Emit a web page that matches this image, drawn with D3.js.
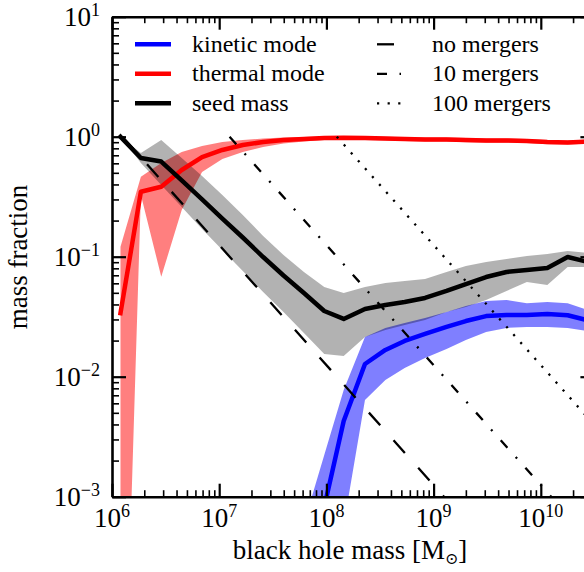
<!DOCTYPE html>
<html>
<head>
<meta charset="utf-8">
<script src="https://cdn.jsdelivr.net/npm/d3@7"></script>
<style>
  body { margin: 0; background: #fff; }
  svg { display: block; }
  svg text { font-family: "Liberation Serif", "DejaVu Serif", serif; }
</style>
</head>
<body>
<svg id="chart" width="584" height="572"></svg>
<script>
// black hole mass bins [Msun]
const mass = [1.20e6, 1.86e6, 2.88e6, 4.47e6, 6.92e6, 1.07e7, 1.66e7, 2.57e7, 3.98e7, 6.17e7,
  9.55e7, 1.45e8, 2.29e8, 3.55e8, 5.37e8, 8.32e8, 1.32e9, 2.00e9, 3.09e9, 4.79e9,
  7.41e9, 1.15e10, 1.78e10, 2.75e10];

// seed mass fraction (median + range)
const seed = [1.0, 0.665, 0.621, 0.432, 0.300, 0.208, 0.1445, 0.0994, 0.0697, 0.0498,
  0.0353, 0.0303, 0.0367, 0.0396, 0.0419, 0.0453, 0.0518, 0.0592, 0.0677, 0.0746,
  0.0775, 0.0805, 0.0994, 0.0903];
const seedHigh = [1.0, 0.731, 0.939, 0.665, 0.471, 0.327, 0.2226, 0.149, 0.1033, 0.0746,
  0.0559, 0.0498, 0.0559, 0.0604, 0.0627, 0.0652, 0.0746, 0.0836, 0.0903, 0.0957,
  0.1014, 0.1053, 0.1115, 0.1074];
const seedLow = [1.0, 0.604, 0.396, 0.2597, 0.170, 0.1137, 0.076, 0.0508, 0.0346, 0.0231,
  0.01545, 0.01488, 0.0214, 0.0245, 0.027, 0.0297, 0.0346, 0.0381, 0.0436, 0.0518,
  0.0615, 0.0581, 0.082, 0.082];

// thermal mode fraction
const thermal = [0.0338, 0.348, 0.383, 0.528, 0.677, 0.775, 0.853, 0.903, 0.939, 0.957,
  0.975, 0.981, 0.975, 0.966, 0.957, 0.948, 0.948, 0.939, 0.93, 0.93,
  0.921, 0.903, 0.895, 0.912];
const thermalHigh = [0.121, 0.464, 0.604, 0.746, 0.837, 0.903, 0.939, 0.966, 0.985, 0.994,
  1.004, 1.013, 1.01, 1.0, 0.99, 0.985, 0.985, 0.975, 0.965, 0.965,
  0.955, 0.94, 0.93, 0.945];
const thermalLow = [1e-6, 0.327, 0.068, 0.245, 0.508, 0.652, 0.746, 0.82, 0.878, 0.912,
  0.939, 0.948, 0.94, 0.93, 0.92, 0.91, 0.91, 0.9, 0.89, 0.89,
  0.885, 0.865, 0.86, 0.875];

// kinetic mode fraction (only above ~6e7 Msun)
const kineticMass = [6.17e7, 9.55e7, 1.45e8, 2.29e8, 3.55e8, 5.37e8, 8.32e8, 1.32e9, 2.00e9,
  3.09e9, 4.79e9, 7.41e9, 1.15e10, 1.78e10, 2.75e10];
const kinetic = [6e-5, 8.2e-4, 0.00428, 0.01276, 0.0167, 0.01984, 0.0227, 0.026, 0.0291,
  0.032, 0.0327, 0.0327, 0.0333, 0.0325, 0.0295];
const kineticHigh = [6.0e-4, 0.00223, 0.00776, 0.0214, 0.0255, 0.028, 0.0308, 0.0346, 0.0388,
  0.0427, 0.0436, 0.041, 0.042, 0.041, 0.036];
const kineticLow = [1e-6, 1e-5, 5.8e-4, 0.0064, 0.0094, 0.0118, 0.01432, 0.017, 0.0202,
  0.0236, 0.0255, 0.026, 0.026, 0.0255, 0.024];

// reference lines: seed grown by N mergers only
const mergerLabels = ['no mergers', '10 mergers', '100 mergers'];
const mergerMass = [[1.25e6, 1.25e9], [1.25e7, 1.25e10], [1.25e8, 1.25e11]];
const mergerFrac = [1, 1e-3];
const mergerDash = ['17,20', '10,12.5,2,12.5', '2.2,8.4'];

const yTickLabels = ['\u22123', '\u22122', '\u22121', '0', '1'];
const xTickLabels = ['6', '7', '8', '9', '10'];

const serif = '"Liberation Serif", "DejaVu Serif", serif';
const svg = d3.select('#chart').attr('font-family', serif);
const plotLeft = 112, plotRight = 594.4, plotTop = 16.7, plotBottom = 496.7;

const x = d3.scaleLog().domain([1e6, Math.pow(10, 10.5)]).range([plotLeft, plotRight]);
const y = d3.scaleLog().domain([1e-3, 10]).range([plotBottom, plotTop]);

svg.append('defs').append('clipPath').attr('id', 'clip')
  .append('rect')
  .attr('x', plotLeft).attr('y', plotTop)
  .attr('width', plotRight - plotLeft).attr('height', plotBottom - plotTop);

const plot = svg.append('g').attr('clip-path', 'url(#clip)');

const band = (xs, lo, hi) => d3.area()
  .x((d) => x(xs[d]))
  .y0((d) => y(lo[d]))
  .y1((d) => y(hi[d]))(d3.range(xs.length));

const line = (xs, ys) => d3.line()
  .x((d) => x(xs[d]))
  .y((d) => y(ys[d]))(d3.range(xs.length));

plot.append('path').attr('d', band(mass, thermalLow, thermalHigh))
  .attr('fill', '#ff0000').attr('fill-opacity', 0.5);
plot.append('path').attr('d', band(kineticMass, kineticLow, kineticHigh))
  .attr('fill', '#0000ff').attr('fill-opacity', 0.5);
plot.append('path').attr('d', band(mass, seedLow, seedHigh))
  .attr('fill', '#000000').attr('fill-opacity', 0.3);

[[kineticMass, kinetic, '#0000ff'], [mass, thermal, '#ff0000'], [mass, seed, '#000000']]
  .forEach(([xs, ys, color]) => {
    plot.append('path').attr('d', line(xs, ys))
      .attr('fill', 'none')
      .attr('stroke', color)
      .attr('stroke-width', 4.5)
      .attr('stroke-linejoin', 'round')
      .attr('stroke-linecap', 'square');
  });

mergerMass.forEach((ms, i) => {
  plot.append('path').attr('d', line(ms, mergerFrac))
    .attr('fill', 'none')
    .attr('stroke', '#000')
    .attr('stroke-width', 2.3)
    .attr('stroke-dasharray', mergerDash[i]);
});

// axes with inward ticks on all four sides
const isDecade = (v) => Math.abs(Math.log10(v) - Math.round(Math.log10(v))) < 1e-9;
const xMajor = x.ticks().filter(isDecade);
const xMinor = x.ticks().filter((v) => !isDecade(v));
const yMajor = y.ticks().filter(isDecade);
const yMinor = y.ticks().filter((v) => !isDecade(v));

const axes = [
  [d3.axisBottom(x), `translate(0,${plotBottom})`, xMajor, xMinor, 13, 6.5],
  [d3.axisTop(x), `translate(0,${plotTop})`, xMajor, xMinor, 13, 6.5],
  [d3.axisLeft(y), `translate(${plotLeft},0)`, yMajor, yMinor, 14, 7],
  [d3.axisRight(y), `translate(${plotRight},0)`, yMajor, yMinor, 14, 7]
];

axes.forEach(([axis, tr, major, minor, big, small]) => {
  const gMinor = svg.append('g').attr('transform', tr)
    .call(axis.tickValues(minor).tickSize(-small).tickSizeOuter(0).tickFormat(''));
  gMinor.select('.domain').remove();
  gMinor.selectAll('line').attr('stroke', '#000').attr('stroke-width', 1.6);
  const gMajor = svg.append('g').attr('transform', tr)
    .call(axis.tickValues(major).tickSize(-big).tickSizeOuter(0).tickFormat(''));
  gMajor.select('.domain').attr('stroke', '#000').attr('stroke-width', 2.6);
  gMajor.selectAll('line').attr('stroke', '#000').attr('stroke-width', 2.2);
});

// tick labels as 10^n
yMajor.forEach((v, i) => {
  const t = svg.append('text')
    .attr('x', 100).attr('y', y(v) + 9)
    .attr('text-anchor', 'end')
    .attr('font-size', 27);
  t.append('tspan').text('10');
  t.append('tspan').attr('dy', -10).attr('font-size', 18).text(yTickLabels[i]);
});

xMajor.forEach((v, i) => {
  const t = svg.append('text')
    .attr('x', x(v)).attr('y', 527)
    .attr('text-anchor', 'middle')
    .attr('font-size', 27);
  t.append('tspan').text('10');
  t.append('tspan').attr('dy', -10).attr('font-size', 18).text(xTickLabels[i]);
});

// axis titles
const xl = svg.append('text')
  .attr('x', 350).attr('y', 559)
  .attr('text-anchor', 'middle')
  .attr('font-size', 27);
xl.append('tspan').text('black hole mass [M');
xl.append('tspan').attr('dy', 5).attr('font-size', 16)
  .attr('font-family', '"DejaVu Serif", serif').text('\u2299');
xl.append('tspan').attr('dy', -5).text(']');

svg.append('text')
  .attr('transform', 'translate(27,257) rotate(-90)')
  .attr('text-anchor', 'middle')
  .attr('font-size', 27)
  .text('mass fraction');

// legend
const legendLeft = [
  ['kinetic mode', '#0000ff'],
  ['thermal mode', '#ff0000'],
  ['seed mass', '#000000']
];
const rowY = [44.3, 73.8, 103.3];

legendLeft.forEach(([label, color], i) => {
  svg.append('line')
    .attr('x1', 135).attr('x2', 171)
    .attr('y1', rowY[i]).attr('y2', rowY[i])
    .attr('stroke', color).attr('stroke-width', 4.5);
  svg.append('text')
    .attr('x', 192).attr('y', rowY[i] + 7.5)
    .attr('font-size', 24)
    .text(label);
});

mergerLabels.forEach((label, i) => {
  svg.append('line')
    .attr('x1', 377).attr('x2', 401)
    .attr('y1', rowY[i]).attr('y2', rowY[i])
    .attr('stroke', '#000').attr('stroke-width', 2.3)
    .attr('stroke-dasharray', mergerDash[i]);
  svg.append('text')
    .attr('x', 432).attr('y', rowY[i] + 7.5)
    .attr('font-size', 24)
    .text(label);
});
</script>
</body>
</html>
